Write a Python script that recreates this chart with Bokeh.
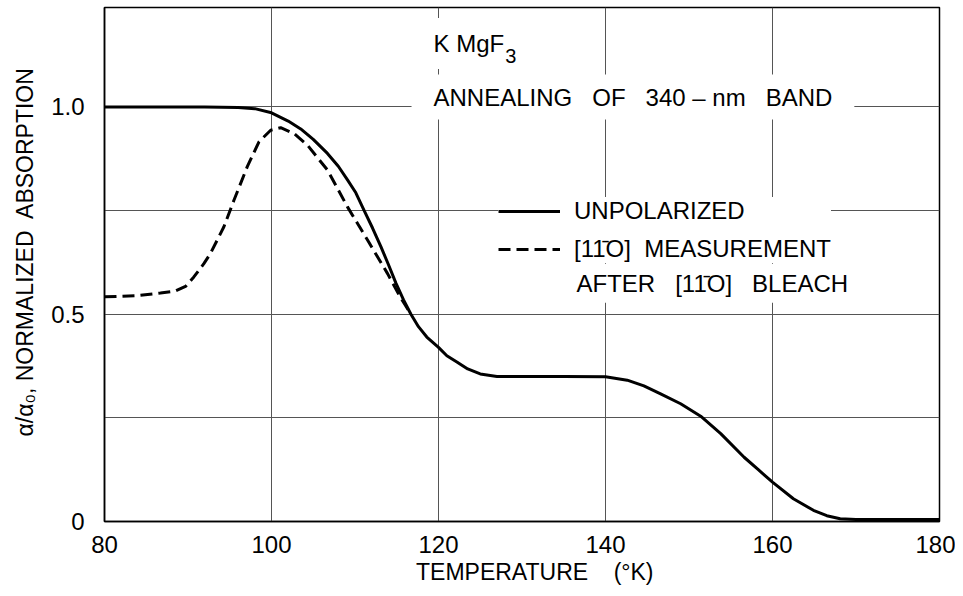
from bokeh.plotting import figure
from bokeh.models import Range1d, FixedTicker, Label, Legend, LegendItem
from bokeh.embed import file_html
from bokeh.resources import INLINE

# ---- data ----
temp_unpolarized = [80, 86, 92, 96, 98, 100, 102, 103.5, 105, 106.7, 108, 109.1, 110.1, 111.1,
                    112.1, 113.1, 114.0, 114.9, 115.8, 116.7, 117.6, 118.6, 120, 121, 122.2,
                    123.5, 125, 127, 130, 135, 140, 142.6, 144.6, 146.6, 149, 151.4, 153.8,
                    156.6, 158.3, 160, 162.5, 164.9, 166.5, 168.1, 170, 175, 180]
abs_unpolarized = [1.0, 1.0, 1.0, 0.999, 0.996, 0.986, 0.966, 0.947, 0.922, 0.888, 0.857, 0.824,
                   0.793, 0.750, 0.708, 0.663, 0.620, 0.575, 0.535, 0.500, 0.470, 0.445, 0.420,
                   0.400, 0.385, 0.368, 0.356, 0.350, 0.350, 0.350, 0.349, 0.341, 0.327, 0.308,
                   0.284, 0.254, 0.212, 0.155, 0.125, 0.095, 0.055, 0.027, 0.014, 0.0065, 0.005,
                   0.005, 0.005]

temp_bleached = [80, 84, 86.7, 88.5, 89.7, 90.7, 91.9, 92.7, 94.3, 95.5, 97.1, 98.5, 99.9, 101.1,
                 102.7, 104.3, 106.7, 109.1, 111.5, 113.9, 115.4, 116.7]
abs_bleached = [0.542, 0.545, 0.551, 0.556, 0.567, 0.590, 0.622, 0.647, 0.711, 0.775, 0.856,
                0.916, 0.944, 0.950, 0.936, 0.908, 0.848, 0.759, 0.679, 0.598, 0.542, 0.500]

x_grid = [100, 120, 140, 160]
x_ticks = [80, 100, 120, 140, 160, 180]
y_grid = [0.25, 0.5, 0.75, 1.0]
y_ticks = [0, 0.5, 1.0]
y_tick_labels = {0: "0", 0.5: "0.5", 1: "1.0"}

FONT = "Liberation Sans"
NB = "\u00a0"

p = figure(width=955, height=594, output_backend="svg", toolbar_location=None,
           x_range=Range1d(80, 180), y_range=Range1d(0, 1.24),
           min_border_left=104, min_border_right=16, min_border_top=7, min_border_bottom=73,
           background_fill_color="white", border_fill_color="white")
p.title.visible = False
p.outline_line_color = "black"
p.outline_line_width = 1.5

p.xaxis.ticker = FixedTicker(ticks=x_ticks)
p.yaxis.ticker = FixedTicker(ticks=y_ticks)
p.yaxis.major_label_overrides = y_tick_labels
p.xgrid.ticker = FixedTicker(ticks=x_grid)
p.ygrid.ticker = FixedTicker(ticks=y_grid)
for g in (p.xgrid, p.ygrid):
    g.grid_line_color = "#555555"
    g.grid_line_width = 1

for ax in (p.xaxis, p.yaxis):
    ax.axis_line_color = "black"
    ax.axis_line_width = 1.5
    ax.major_tick_out = 0
    ax.major_tick_in = 0
    ax.minor_tick_out = 0
    ax.minor_tick_in = 0
    ax.major_label_text_font = FONT
    ax.major_label_text_font_size = "24px"
    ax.major_label_text_color = "black"
    ax.axis_label_text_font = FONT
    ax.axis_label_text_font_size = "23px"
    ax.axis_label_text_font_style = "normal"
    ax.axis_label_text_color = "black"

p.xaxis.axis_label = NB * 4 + "TEMPERATURE" + NB * 3 + " (°K)"
p.xaxis.major_label_standoff = 14
p.xaxis.axis_label_standoff = 3
p.yaxis.axis_label = NB * 4 + "α/α₀, NORMALIZED" + NB + " ABSORPTION"
p.yaxis.major_label_standoff = 20
p.yaxis.axis_label_standoff = 10

r_unpol = p.line(temp_unpolarized, abs_unpolarized, line_color="black", line_width=3)
r_bleach = p.line(temp_bleached, abs_bleached, line_color="black", line_width=3,
                  line_dash="12 6")

legend = Legend(items=[LegendItem(label="UNPOLARIZED", renderers=[r_unpol]),
                       LegendItem(label="[11\u0304O]" + NB + " MEASUREMENT", renderers=[r_bleach])],
                location=(394, 258), glyph_width=62, glyph_height=26, label_height=26,
                label_standoff=14, spacing=10, padding=10, margin=0,
                label_text_font=FONT, label_text_font_size="24px", label_text_color="black",
                background_fill_color="white", background_fill_alpha=1.0,
                border_line_color=None)
p.add_layout(legend, "center")

p.add_layout(Label(x=135.33, y=0.575, text="AFTER" + NB * 2 + " [11\u0304O]" + NB * 2 + " BLEACH",
                   text_font=FONT, text_font_size="24px", text_baseline="middle",
                   text_align="left", text_color="black", background_fill_color="white",
                   padding=(10, 6)))

p.add_layout(Label(x=116.77, y=1.024,
                   text="ANNEALING" + NB * 2 + " OF" + NB * 2 + " 340 – nm" + NB * 2 + " BAND",
                   text_font=FONT, text_font_size="24px", text_baseline="middle",
                   text_align="left", text_color="black", background_fill_color="white",
                   padding=(22, 9)))

p.add_layout(Label(x=118.2, y=1.153, text="K MgF", text_font=FONT,
                   text_font_size="24px", text_baseline="middle", text_align="left",
                   text_color="black", background_fill_color="white", padding=(10, 12)))
p.add_layout(Label(x=128.0, y=1.122, text="3", text_font=FONT,
                   text_font_size="20px", text_baseline="middle", text_align="left",
                   text_color="black"))

open("out.html", "w").write(file_html(p, INLINE))
